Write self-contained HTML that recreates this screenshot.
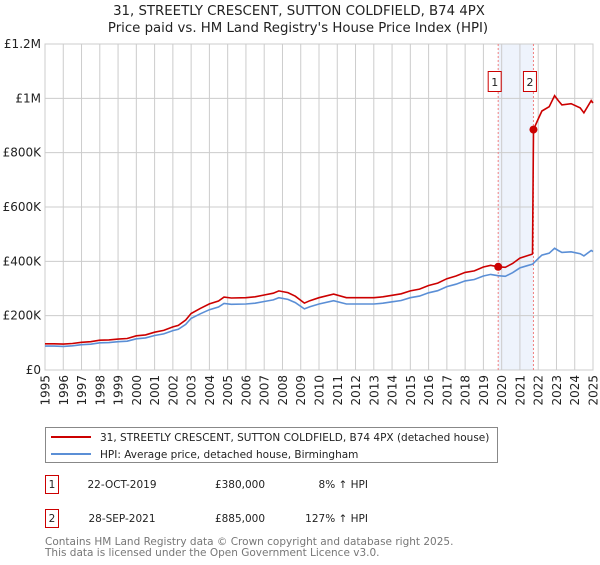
<!DOCTYPE html>
<html><head><meta charset="utf-8"><style>
body{margin:0;background:#fff;width:600px;height:560px;overflow:hidden;font-family:"Liberation Sans","DejaVu Sans",sans-serif}
svg text{font-family:"DejaVu Sans","Liberation Sans",sans-serif}
</style></head><body>
<svg id="c" width="600" height="560">
<text x="299" y="15" font-size="13.3" text-anchor="middle" fill="#222">31, STREETLY CRESCENT, SUTTON COLDFIELD, B74 4PX</text>
<text x="298" y="32" font-size="13.3" text-anchor="middle" fill="#222">Price paid vs. HM Land Registry's House Price Index (HPI)</text>
<g id="grid"></g><g id="marks"></g><g id="axes"></g>
<g>
<rect x="45.5" y="427.5" width="452" height="35" fill="#fff" stroke="#888"/>
<line x1="51" y1="437" x2="91" y2="437" stroke="#cc0000" stroke-width="2"/>
<text x="100" y="441" font-size="10.5" fill="#222">31, STREETLY CRESCENT, SUTTON COLDFIELD, B74 4PX (detached house)</text>
<line x1="51" y1="454" x2="91" y2="454" stroke="#5b8fd6" stroke-width="2"/>
<text x="100" y="458" font-size="10.5" fill="#222">HPI: Average price, detached house, Birmingham</text>
</g>
<g font-size="10.5" fill="#222">
<rect x="45.5" y="475.5" width="13" height="18" fill="#fff" stroke="#cc0000"/><text x="52" y="488" text-anchor="middle">1</text>
<text x="122" y="488" text-anchor="middle">22-OCT-2019</text><text x="240" y="488" text-anchor="middle">£380,000</text><text x="368" y="488" text-anchor="end">8% ↑ HPI</text>
<rect x="45.5" y="509.5" width="13" height="18" fill="#fff" stroke="#cc0000"/><text x="52" y="522" text-anchor="middle">2</text>
<text x="122" y="522" text-anchor="middle">28-SEP-2021</text><text x="240" y="522" text-anchor="middle">£885,000</text><text x="368" y="522" text-anchor="end">127% ↑ HPI</text>
</g>
<text x="45" y="545" font-size="10.5" fill="#777">Contains HM Land Registry data © Crown copyright and database right 2025.</text>
<text x="45" y="556" font-size="10.5" fill="#777">This data is licensed under the Open Government Licence v3.0.</text>
</svg>
<script>
const hpiYears=[1995,1995.5,1996,1996.5,1997,1997.5,1998,1998.5,1999,1999.5,2000,2000.5,2001,2001.5,2002,2002.3,2002.7,2003,2003.5,2004,2004.5,2004.8,2005.2,2006,2006.5,2007,2007.5,2007.8,2008.3,2008.7,2009.2,2009.5,2010,2010.8,2011.5,2012,2013,2013.5,2014,2014.5,2015,2015.5,2016,2016.5,2017,2017.5,2018,2018.5,2019,2019.4,2019.8,2020.2,2020.6,2021,2021.4,2021.7,2022,2022.2,2022.6,2022.9,2023.1,2023.3,2023.8,2024.3,2024.5,2024.9,2025];
const hpiValues=[88000,88000,87000,89000,93000,95000,100000,101000,104000,106000,115000,118000,127000,133000,145000,150000,168000,190000,207000,222000,232000,245000,242000,243000,246000,252000,258000,266000,260000,248000,225000,233000,243000,255000,243000,243000,243000,246000,251000,256000,266000,272000,284000,292000,307000,316000,328000,333000,346000,352000,347000,345000,358000,376000,384000,390000,410000,423000,430000,448000,440000,433000,435000,428000,420000,440000,436000];
const saleYears=[2019.81,2021.74];
const salePrices=[380000,885000];
const saleLabels=["1","2"];
const yTicks=[0,200000,400000,600000,800000,1000000,1200000];
const yTickLabels=["£0","£200K","£400K","£600K","£800K","£1M","£1.2M"];
const xTicks=[];for(let y=1995;y<=2025;y++)xTicks.push(y);
const X0=45,X1=593,Y0=370,Y1=44;
const xs=t=>X0+(t-1995)/30*(X1-X0);
const ys=v=>Y0-v/1200000*(Y0-Y1);
const NS="http://www.w3.org/2000/svg";
function mk(tag,attrs,parent){const e=document.createElementNS(NS,tag);for(const k in attrs)e.setAttribute(k,attrs[k]);parent.appendChild(e);return e;}
function hpiAt(t){for(let i=0;i<hpiYears.length-1;i++){if(t<=hpiYears[i+1]){const f=(t-hpiYears[i])/(hpiYears[i+1]-hpiYears[i]);return hpiValues[i]+f*(hpiValues[i+1]-hpiValues[i]);}}return hpiValues[hpiValues.length-1];}
const grid=document.getElementById('grid'),marks=document.getElementById('marks'),axes=document.getElementById('axes');
const band=mk('rect',{x:xs(saleYears[0]),y:Y1,width:xs(saleYears[1])-xs(saleYears[0]),height:Y0-Y1,fill:'#eef3fc'},grid);


xTicks.forEach(t=>{const l=mk('line',{x1:xs(t),x2:xs(t),y1:Y1,y2:Y0,stroke:'#ccc'},grid);


const tx=mk('text',{x:0,y:0,'font-size':12,fill:'#222','text-anchor':'end',transform:`translate(${xs(t)+4.5},${Y0+5}) rotate(-90)`},axes);tx.textContent=t;

});
yTicks.forEach((v,i)=>{const l=mk('line',{x1:X0,x2:X1,y1:ys(v),y2:ys(v),stroke:'#ccc'},grid);


const tx=mk('text',{x:X0-4,y:ys(v)+4,'font-size':12,fill:'#222','text-anchor':'end'},axes);tx.textContent=yTickLabels[i];

});
const ax=mk('rect',{x:X0,y:Y1,width:X1-X0,height:Y0-Y1,fill:'none',stroke:'#ccc'},grid);


saleYears.forEach((t,i)=>{const l=mk('line',{x1:xs(t),x2:xs(t),y1:Y1,y2:Y0,stroke:'#f08080','stroke-dasharray':'2,2'},grid);

});
let d='';hpiYears.forEach((t,i)=>{d+=(i?'L':'M')+xs(t).toFixed(1)+','+ys(hpiValues[i]).toFixed(1);});
const hp=mk('path',{d,fill:'none',stroke:'#5b8fd6','stroke-width':1.6},marks);


const r0=salePrices[0]/hpiAt(saleYears[0]),r1=salePrices[1]/hpiAt(saleYears[1]);
const pts=[];hpiYears.forEach((t,i)=>{if(t<saleYears[1])pts.push([t,hpiValues[i]*r0]);});
pts.push([saleYears[0],salePrices[0]]);pts.sort((a,b)=>a[0]-b[0]);
pts.push([saleYears[1]-0.05,hpiAt(saleYears[1]-0.05)*r0]);pts.push([saleYears[1],salePrices[1]]);
hpiYears.forEach((t,i)=>{if(t>saleYears[1])pts.push([t,hpiValues[i]*r1]);});
d='';pts.forEach((p,i)=>{d+=(i?'L':'M')+xs(p[0]).toFixed(1)+','+ys(p[1]).toFixed(1);});
const pp=mk('path',{d,fill:'none',stroke:'#cc0000','stroke-width':1.6},marks);


saleYears.forEach((t,i)=>{const c=mk('circle',{cx:xs(t),cy:ys(salePrices[i]),r:4,fill:'#cc0000'},marks);


const g=mk('g',{},marks);


mk('rect',{x:xs(t)-10,y:71.5,width:13,height:20,fill:'#fff',stroke:'#cc0000'},g);
const tx=mk('text',{x:xs(t)-3.5,y:86,'font-size':11,'text-anchor':'middle',fill:'#222'},g);tx.textContent=saleLabels[i];});
</script>
</body></html>
